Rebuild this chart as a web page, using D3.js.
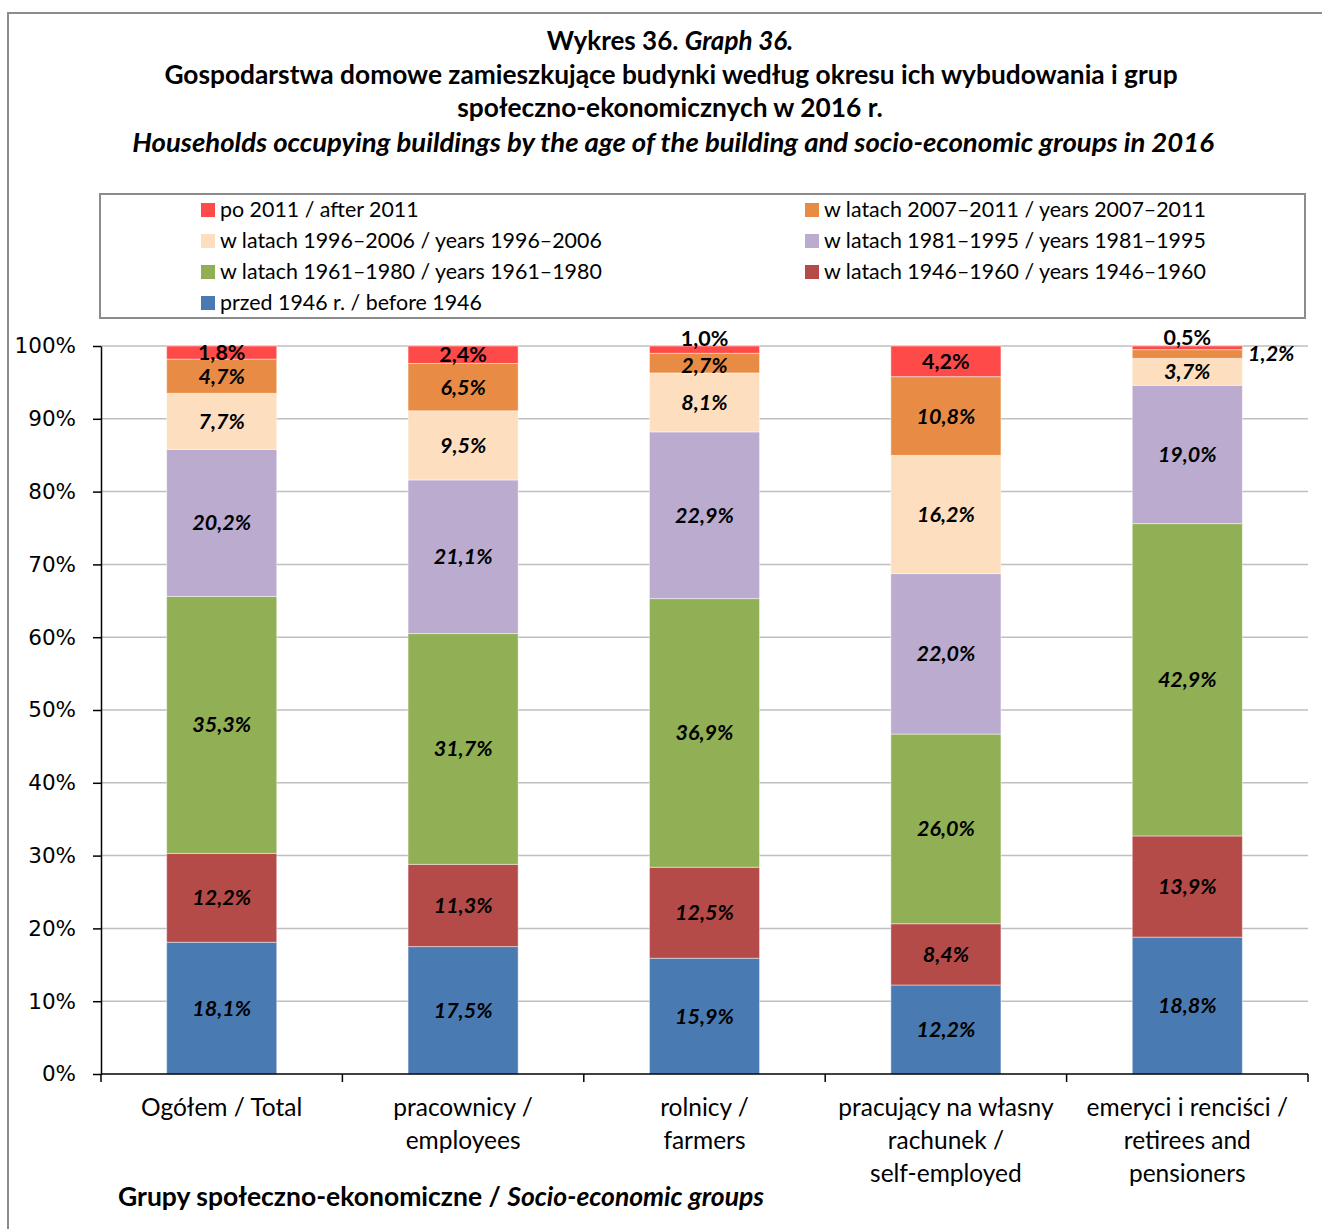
<!DOCTYPE html>
<html><head><meta charset="utf-8">
<script src="https://cdn.jsdelivr.net/npm/d3@7"></script>
<style>
body{margin:0;background:#fff;}
svg{display:block;font-family:Lato,"Open Sans",sans-serif;}
</style></head>
<body>
<svg id="chart" width="1322" height="1229"></svg>
<script>
const categories = ["Ogółem / Total","pracownicy / employees","rolnicy / farmers","pracujący na własny rachunek / self-employed","emeryci i renciści / retirees and pensioners"];
const categoryLines = [["Ogółem / Total"],["pracownicy /","employees"],["rolnicy /","farmers"],["pracujący na własny","rachunek /","self-employed"],["emeryci i renciści /","retirees and","pensioners"]];
const seriesKeys = ["before1946","y1946_1960","y1961_1980","y1981_1995","y1996_2006","y2007_2011","after2011"];
const seriesNames = ["przed 1946 r. / before 1946","w latach 1946–1960 / years 1946–1960","w latach 1961–1980 / years 1961–1980","w latach 1981–1995 / years 1981–1995","w latach 1996–2006 / years 1996–2006","w latach 2007–2011 / years 2007–2011","po 2011 / after 2011"];
const before1946 = [18.1,17.5,15.9,12.2,18.8];
const y1946_1960 = [12.2,11.3,12.5,8.4,13.9];
const y1961_1980 = [35.3,31.7,36.9,26.0,42.9];
const y1981_1995 = [20.2,21.1,22.9,22.0,19.0];
const y1996_2006 = [7.7,9.5,8.1,16.2,3.7];
const y2007_2011 = [4.7,6.5,2.7,10.8,1.2];
const after2011 = [1.8,2.4,1.0,4.2,0.5];
const yTicks = [0,0.1,0.2,0.3,0.4,0.5,0.6,0.7,0.8,0.9,1.0];
const colors = ["#4A7AB2","#B44B49","#91AF55","#BAABCF","#FDDEBF","#E88C45","#FF4A4A"];

const seriesValues = [before1946,y1946_1960,y1961_1980,y1981_1995,y1996_2006,y2007_2011,after2011];
const rows = categories.map((c,i)=>{const r={cat:c}; seriesKeys.forEach((k,j)=>r[k]=seriesValues[j][i]); return r;});

const svg = d3.select("#chart");
// outer frame
svg.append("rect").attr("x",8).attr("y",13).attr("width",1330).attr("height",1240)
  .attr("fill","none").attr("stroke","#8c8c8c").attr("stroke-width",2);

// title
const title = svg.append("g").attr("text-anchor","middle").attr("font-weight","bold").attr("font-size",26).attr("fill","#000");
const t1 = title.append("text").attr("x",670).attr("y",50);
t1.append("tspan").text("Wykres 36. ");
t1.append("tspan").attr("font-style","italic").text("Graph 36.");
title.append("text").attr("x",671).attr("y",84).attr("font-size",26.3).text("Gospodarstwa domowe zamieszkujące budynki według okresu ich wybudowania i grup");
title.append("text").attr("x",670).attr("y",117).attr("font-size",26.3).text("społeczno-ekonomicznych w 2016 r.");
title.append("text").attr("x",673).attr("y",152).attr("font-size",27.5).attr("font-style","italic").text("Households occupying buildings by the age of the building and socio-economic groups in 2016");

// legend
svg.append("rect").attr("x",100).attr("y",194).attr("width",1205).attr("height",124)
  .attr("fill","none").attr("stroke","#8c8c8c").attr("stroke-width",2);
const legendOrder = [6,5,4,3,2,1,0];
legendOrder.forEach((si,i)=>{
  const col = i%2, row = Math.floor(i/2);
  const x = col===0?201:805, y = 210+row*31;
  svg.append("rect").attr("x",x).attr("y",y-7).attr("width",14).attr("height",14).attr("fill",colors[si]);
  svg.append("text").attr("x",x+19).attr("y",y).attr("dy","0.35em").attr("font-size",21.4).attr("fill","#000").text(seriesNames[si]);
});

// scales
const x0 = 101, x1 = 1308, yTop = 346, yBot = 1074;
const x = d3.scaleBand().domain(categories).range([x0,x1]).paddingInner(0.544).paddingOuter(0.272);
const y = d3.scaleLinear().domain([0,1]).range([yBot,yTop]);

// gridlines
svg.append("g").selectAll("line").data(yTicks.slice(1)).join("line")
  .attr("x1",x0).attr("x2",x1).attr("y1",d=>y(d)).attr("y2",d=>y(d))
  .attr("stroke","#bfbfbf").attr("stroke-width",1.5);

const stack = d3.stack().keys(seriesKeys).offset(d3.stackOffsetExpand);
const stacked = stack(rows);

const gBars = svg.append("g");
stacked.forEach((s,si)=>{
  gBars.append("g").selectAll("rect").data(s).join("rect")
    .attr("x",d=>x(d.data.cat)).attr("width",x.bandwidth())
    .attr("y",d=>y(d[1])).attr("height",d=>y(d[0])-y(d[1]))
    .attr("fill",colors[si]).attr("stroke","rgba(255,255,255,0.45)").attr("stroke-width",1);
});

// y axis
const yAxis = d3.axisLeft(y).tickValues(yTicks).tickFormat(d=>Math.round(d*100)+"%").tickSize(8).tickSizeOuter(0);
const ga = svg.append("g").attr("transform",`translate(${x0},0)`).call(yAxis);
ga.select(".domain").attr("stroke","#000").attr("stroke-width",1.5);
ga.selectAll(".tick line").attr("stroke","#000").attr("stroke-width",1.5);
ga.selectAll(".tick text").attr("font-family","'DejaVu Sans',Verdana,sans-serif").attr("font-size",21.5).attr("fill","#000").attr("x",-25);

// x axis
svg.append("line").attr("x1",x0).attr("x2",x1).attr("y1",yBot).attr("y2",yBot).attr("stroke","#000").attr("stroke-width",1.5);
const step = x.step();
svg.append("g").selectAll("line").data(d3.range(categories.length+1)).join("line")
  .attr("x1",i=>x0+i*step).attr("x2",i=>x0+i*step).attr("y1",yBot).attr("y2",yBot+8)
  .attr("stroke","#000").attr("stroke-width",1.5);
categories.forEach((c,i)=>{
  const t = svg.append("text").attr("text-anchor","middle").attr("font-size",24.5).attr("fill","#000");
  categoryLines[i].forEach((ln,k)=>{
    t.append("tspan").attr("x",x(c)+x.bandwidth()/2).attr("y",1116+k*33).text(ln);
  });
});

// axis title
const at = svg.append("text").attr("x",118).attr("y",1206).attr("font-size",26.5).attr("font-weight","bold").attr("fill","#000");
at.append("tspan").text("Grupy społeczno-ekonomiczne / ");
at.append("tspan").attr("font-style","italic").text("Socio-economic groups");

// data labels
const nudge = {"6-2":[0,-11],"5-2":[0,2],"6-4":[0,-10],"5-4":[84,-1]};
const fmt = v=>v.toFixed(1).replace(".",",")+"%";
const gl = svg.append("g").attr("text-anchor","middle").attr("font-weight","bold").attr("font-size",21.5).attr("fill","#000");
stacked.forEach((s,si)=>{
  s.forEach((d,ci)=>{
    const n = nudge[si+"-"+ci]||[0,0];
    const cx = x(d.data.cat)+x.bandwidth()/2 + n[0];
    const cy = (y(d[0])+y(d[1]))/2 + n[1];
    gl.append("text").attr("x",cx).attr("y",cy).attr("dy","0.35em")
      .attr("font-style",si===6?"normal":"italic")
      .text(fmt(seriesValues[si][ci]));
  });
});
</script>
</body></html>
